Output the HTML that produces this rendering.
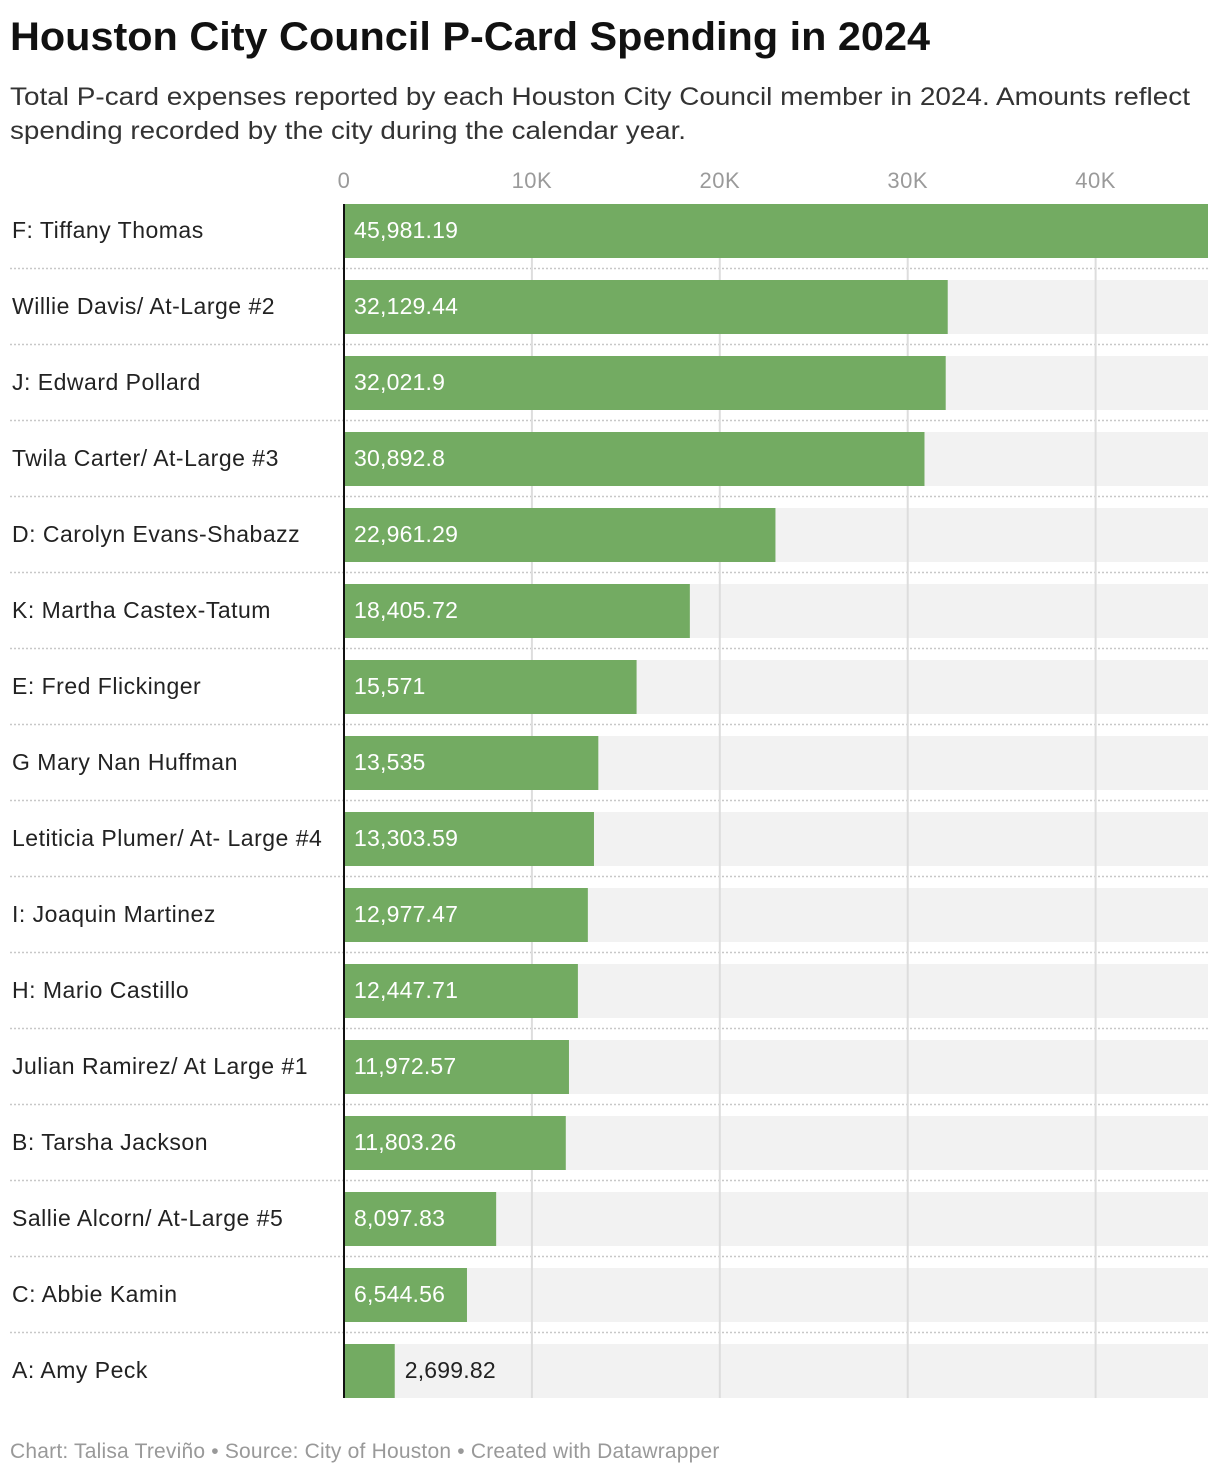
<!DOCTYPE html>
<html><head><meta charset="utf-8"><style>
body{margin:0;background:#fff;width:1220px;height:1474px;overflow:hidden;font-family:"Liberation Sans",sans-serif}
</style></head><body>
<svg width="1220" height="1474" xmlns="http://www.w3.org/2000/svg">
<text x="10" y="50" font-size="40" font-weight="bold" fill="#111" textLength="920" lengthAdjust="spacingAndGlyphs">Houston City Council P-Card Spending in 2024</text>
<text x="10" y="105" font-size="25" fill="#333" textLength="1180" lengthAdjust="spacingAndGlyphs">Total P-card expenses reported by each Houston City Council member in 2024. Amounts reflect</text>
<text x="10" y="139" font-size="25" fill="#333" textLength="676" lengthAdjust="spacingAndGlyphs">spending recorded by the city during the calendar year.</text>
<g id="grid"></g><g id="rows"></g>
<line x1="344" x2="344" y1="204" y2="1398" stroke="#111" stroke-width="2"/>
<text x="10" y="1458" font-size="21" letter-spacing="0.2" fill="#999">Chart: Talisa Treviño • Source: City of Houston • Created with Datawrapper</text>
</svg>
<script>
const names=["F: Tiffany Thomas","Willie Davis/ At-Large #2","J: Edward Pollard","Twila Carter/ At-Large #3","D: Carolyn Evans-Shabazz","K: Martha Castex-Tatum","E: Fred Flickinger","G Mary Nan Huffman","Letiticia Plumer/ At- Large #4","I: Joaquin Martinez","H: Mario Castillo","Julian Ramirez/ At Large #1","B: Tarsha Jackson","Sallie Alcorn/ At-Large #5","C: Abbie Kamin","A: Amy Peck"];
const values=[45981.19,32129.44,32021.9,30892.8,22961.29,18405.72,15571,13535,13303.59,12977.47,12447.71,11972.57,11803.26,8097.83,6544.56,2699.82];
const labels=["45,981.19","32,129.44","32,021.9","30,892.8","22,961.29","18,405.72","15,571","13,535","13,303.59","12,977.47","12,447.71","11,972.57","11,803.26","8,097.83","6,544.56","2,699.82"];
const ticks=[0,10000,20000,30000,40000];
const tickLabels=["0","10K","20K","30K","40K"];
const NS="http://www.w3.org/2000/svg";
const x0=344,x1=1208,maxV=45981.19;
const xs=v=>x0+(v/maxV)*(x1-x0);
const ys=i=>204+i*76;
function mk(t,a,p){const e=document.createElementNS(NS,t);for(const k in a)e.setAttribute(k,a[k]);p.appendChild(e);return e;}
const grid=document.getElementById('grid'),rows=document.getElementById('rows');
const gl=[];
names.forEach((n,i)=>{
 const y=ys(i);
 const bg=mk('rect',{x:x0,y:y,width:x1-x0,height:54,fill:'#f2f2f2'},rows);
 
 
 if(i>0){const s=mk('line',{x1:10,x2:1208,y1:y-11.5,y2:y-11.5,stroke:'#c8c8c8','stroke-width':1.5,'stroke-dasharray':'2,2'},rows);
 
 }
});
ticks.forEach((t,i)=>{
 if(i>0){const l=mk('line',{x1:xs(t),x2:xs(t),y1:204,y2:1398,stroke:'#ddd','stroke-width':2},rows);
 
 }
 const tx=mk('text',{x:xs(t),y:188,'font-size':22,'letter-spacing':0.5,fill:'#9a9a9a','text-anchor':'middle'},grid);
 tx.textContent=tickLabels[i];
 
 
});
names.forEach((n,i)=>{
 const y=ys(i);
 const lb=mk('text',{x:12,y:y+34,'font-size':23,'letter-spacing':0.5,fill:'#222'},rows);
 lb.textContent=n;
 
 
 const w=xs(values[i])-x0;
 const b=mk('rect',{x:x0,y:y,width:w,height:54,fill:'#73ab62'},rows);
 
 
 const inside=w>100;
 const vt=mk('text',{x:inside?x0+10:x0+w+10,y:y+34,'font-size':23,'letter-spacing':0.2,fill:inside?'#fff':'#222'},rows);
 vt.textContent=labels[i];
 
 
});
</script>
</body></html>
